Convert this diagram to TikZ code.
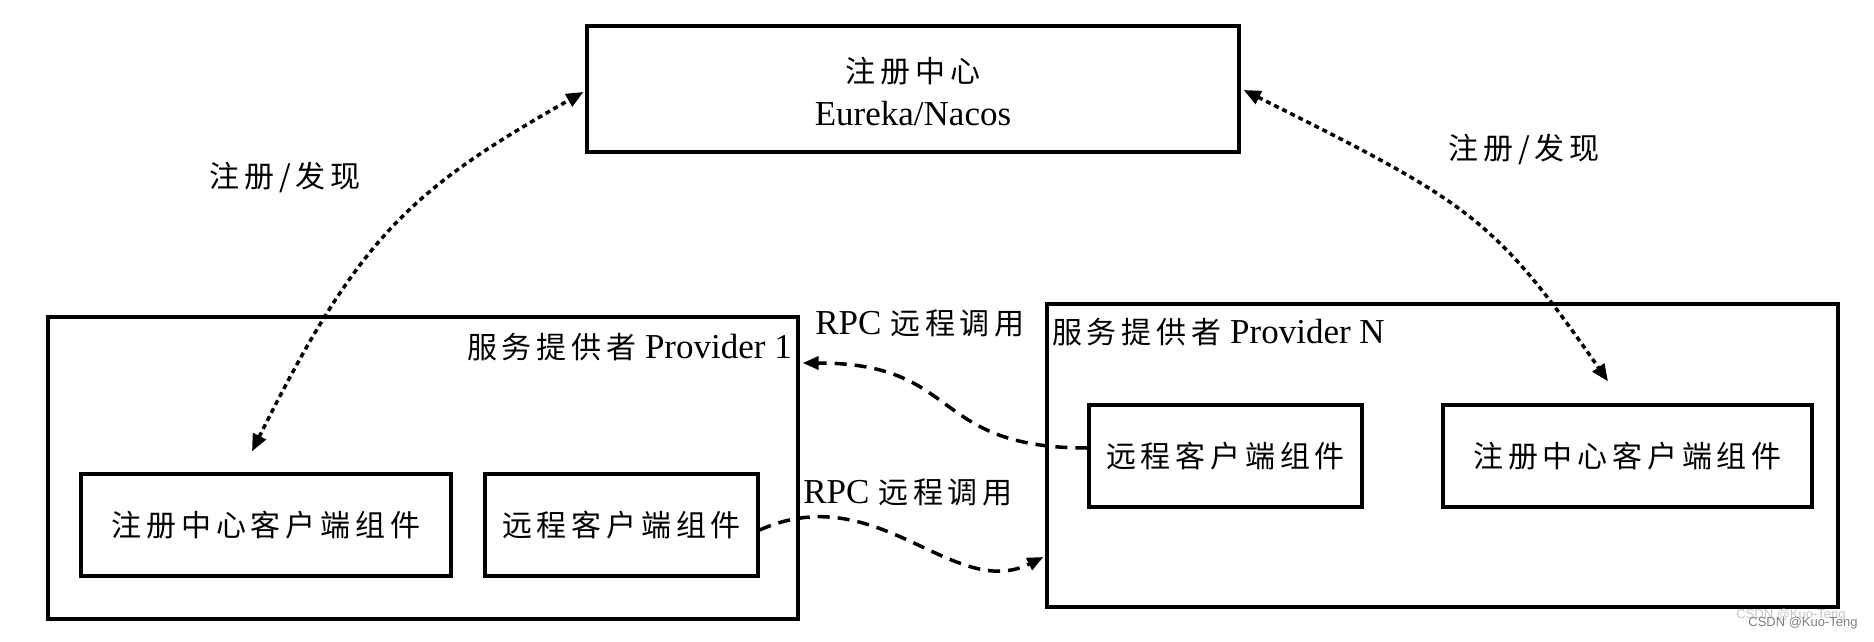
\documentclass[tikz,border=0pt]{standalone}
\usepackage{fontspec}
\setmainfont{Liberation Serif}
\newfontfamily\cjk[LetterSpace=16]{Noto Sans CJK SC}
\newfontfamily\wmfont{Liberation Sans}
\usetikzlibrary{arrows.meta,calc}
\newcommand\zh[1]{{\fontsize{30}{40}\selectfont\cjk #1}}
\tikzset{
  frame/.style={draw=black, line width=3.3pt, inner sep=0pt, fill=white},
  lbl/.style={inner sep=0pt, font=\fontsize{35}{40}\selectfont},
  dotarrow/.style={line width=3.5pt, dash pattern=on 5pt off 4pt,
    {Triangle[length=17pt,width=14pt]}-{Triangle[length=17pt,width=14pt]}},
  dasharrow/.style={line width=3.5pt, dash pattern=on 12pt off 8pt,
    -{Triangle[length=16pt,width=13pt]}},
  wm/.style={inner sep=0pt, font=\wmfont\fontsize{13}{13}\selectfont}
}
\begin{document}
\begin{tikzpicture}[x=1pt,y=-1pt]
\useasboundingbox (0,0) rectangle (1874,642);
\path[fill=white] (0,0) rectangle (1874,642);

% top registry box
\node[frame, minimum width=652pt, minimum height=126pt] (reg) at (913,89) {};
\node[lbl] (regzh) at (913,71) {\zh{注册中心}};
\node[lbl] (regen) at (913,114) {Eureka/Nacos};

% provider boxes
\node[frame, minimum width=750pt, minimum height=302pt] (p1) at (423,468) {};
\node[lbl, anchor=east] (p1t) at (792,347) {\zh{服务提供者} Provider 1};
\node[frame, minimum width=791pt, minimum height=303pt] (pN) at (1442.5,455.5) {};
\node[lbl, anchor=west] (pNt) at (1052,332) {\zh{服务提供者} Provider N};

% inner components
\node[frame, minimum width=370pt, minimum height=102pt] (rg1) at (266,525) {\zh{注册中心客户端组件}};
\node[frame, minimum width=273pt, minimum height=102pt] (rc1) at (621.5,525) {\zh{远程客户端组件}};
\node[frame, minimum width=273pt, minimum height=102pt] (rc2) at (1225.5,456) {\zh{远程客户端组件}};
\node[frame, minimum width=369pt, minimum height=102pt] (rg2) at (1627.5,456) {\zh{注册中心客户端组件}};

% labels
\node[lbl] (lf) at (285,178) {\zh{注册/发现}};
\node[lbl] (rf) at (1524,150) {\zh{注册/发现}};
\node[lbl] (rpc1) at (920,323) {RPC \zh{远程调用}};
\node[lbl] (rpc2) at (908,492) {RPC \zh{远程调用}};

% registration / discovery arrows
\draw[dotarrow] ($(rg1.north)+(-14,-21)$) .. controls ($(rg1.north)+(93,-236)$) and ($(reg.west)+(-175,101)$) .. ($(reg.west)+(-2,3)$);
\draw[dotarrow] ($(reg.east)+(3,1)$) .. controls ($(reg.east)+(229,114)$) and ($(rg2.north)+(-133.5,-186)$) .. ($(rg2.north)+(-19.5,-22)$);

% RPC arrows
\draw[dasharrow] ($(rc2.west)+(0,-8)$) .. controls ($(rc2.west)+(-160,-8)$) and ($(p1.east)+(164,-105)$) .. ($(p1.east)+(3,-105)$);
\draw[dasharrow] ($(rc1.east)+(0,5)$) .. controls ($(rc1.east)+(118,-48)$) and ($(pN.west)+(-92,146.5)$) .. ($(pN.west)+(-2,101.5)$);

% watermark
\node[wm, text=black!22] (wm1) at (1791,615) {CSDN @Kuo-Teng};
\node[wm, text=black!50] (wm2) at (1803,623) {CSDN @Kuo-Teng};
\end{tikzpicture}
\end{document}
